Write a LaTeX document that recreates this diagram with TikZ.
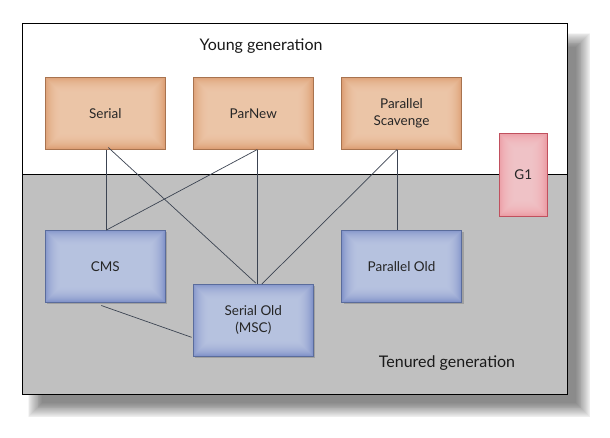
\documentclass[tikz,border=0pt]{standalone}
\usepackage{fontspec}
\setmainfont{Lato}
\usetikzlibrary{shadows}
\definecolor{orgout}{HTML}{DA9A6E}
\definecolor{orgin}{HTML}{F3CFB4}
\definecolor{orgdraw}{HTML}{A8734F}
\definecolor{bluout}{HTML}{7C8EC6}
\definecolor{bluin}{HTML}{C3CEE7}
\definecolor{bludraw}{HTML}{5A6C9C}
\definecolor{pinkout}{HTML}{EA98A0}
\definecolor{pinkin}{HTML}{F7CCD0}
\definecolor{pinkdraw}{HTML}{C0505E}
\definecolor{tenured}{HTML}{C0C0C0}
\definecolor{linkcol}{HTML}{3C4452}
\begin{document}
\begin{tikzpicture}[x=1pt,y=-1pt,
  bevel/.style={path picture={
    \foreach \k in {0,...,15}{
      \fill[#1, opacity=0.12] ([shift={(\k pt,\k pt)}]path picture bounding box.south west)
        rectangle ([shift={(-\k pt,-\k pt)}]path picture bounding box.north east);
    }}},
  gcbox/.style={rectangle, minimum width=120pt, minimum height=72pt, inner sep=0pt,
    align=center, font=\fontsize{13.5}{17}\selectfont, text=black!85},
  youngbox/.style={gcbox, draw=orgdraw, fill=orgout, bevel=orgin},
  oldbox/.style={gcbox, draw=bludraw, fill=bluout, bevel=bluin,
    drop shadow={shadow xshift=2pt, shadow yshift=-2pt, opacity=0.35, fill=black!60}},
  g1box/.style={gcbox, minimum width=48pt, minimum height=83pt, draw=pinkdraw,
    fill=pinkout, bevel=pinkin},
  link/.style={draw=linkcol, line width=0.7pt},
  title/.style={font=\fontsize{16}{19}\selectfont, text=black!90}]
\useasboundingbox (0,0) rectangle (610,437);
% frame shadow (right and bottom only)
\foreach \i in {0,...,16}{
  \fill[black, opacity=0.035] (42-\i*0.9,47-\i*0.9) rectangle (576+\i*0.9,403+\i*0.9);
}
% frame
\fill[white] (22,23) rectangle (567,174.5);
\fill[tenured] (22,174.5) rectangle (567,394);
\draw[black, line width=0.8pt] (22,23) rectangle (567,394);
\draw[black, line width=0.8pt] (22,174.5) -- (567,174.5);
% titles
\node[title] (young) at (261,46) {Young generation};
\node[title] (tenuredlbl) at (447,363) {Tenured generation};
% boxes
\node[youngbox] (serial) at (105.3,113.3) {Serial};
\node[youngbox] (parnew) at (253.3,113.3) {ParNew};
\node[youngbox] (ps) at (401.5,113.3) {Parallel\\Scavenge};
\node[g1box] (g1) at (523.3,174.8) {G1};
\node[oldbox] (cms) at (105.3,266.3) {CMS};
\node[oldbox] (serialold) at (253.3,320.3) {Serial Old\\(MSC)};
\node[oldbox] (parold) at (401.5,266.3) {Parallel Old};
% links
\draw[link] ([xshift=1pt]serial.south) -- ([xshift=1pt]cms.north);
\draw[link] ([xshift=3pt,yshift=2pt]serial.south) -- ([xshift=2.5pt,yshift=1pt]serialold.north);
\draw[link] ([xshift=4pt]parnew.south) -- ([xshift=4pt]serialold.north);
\draw[link] ([xshift=4pt]parnew.south) -- ([xshift=1pt]cms.north);
\draw[link] ([xshift=-4.5pt]ps.south) -- ([xshift=-4.5pt]parold.north);
\draw[link] ([xshift=-4.5pt]ps.south) -- ([xshift=8.5pt]serialold.north);
\draw[link] ([shift={(-4pt,-3pt)}]cms.south) -- ([shift={(-1.5pt,-17pt)}]serialold.west);
\end{tikzpicture}
\end{document}
